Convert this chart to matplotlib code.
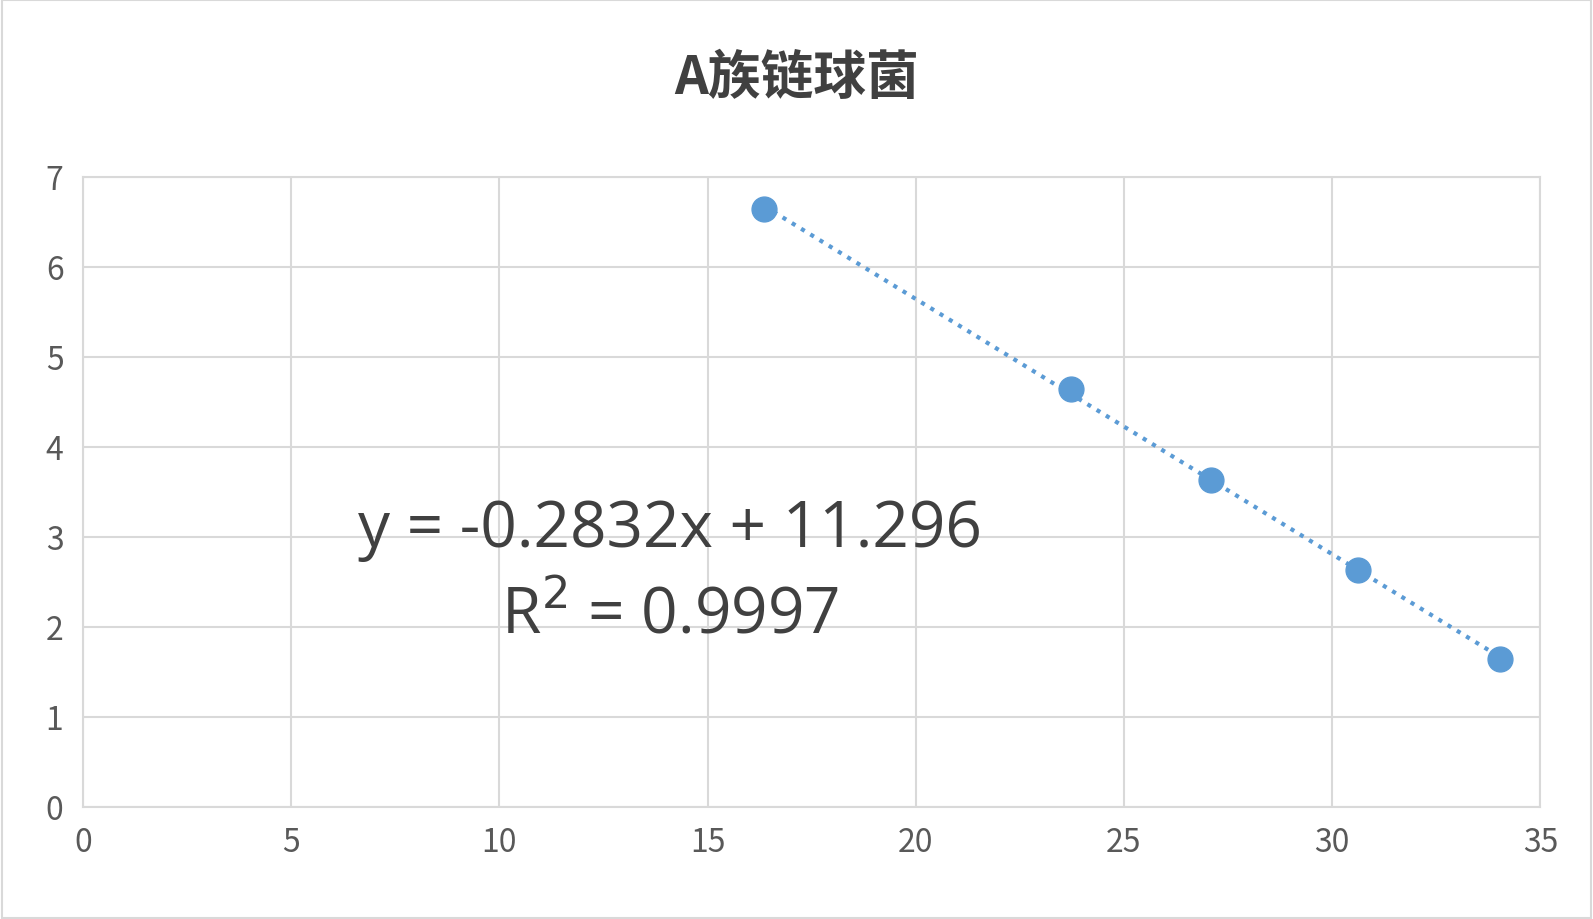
import matplotlib
matplotlib.use("Agg")
import matplotlib.pyplot as plt
import numpy as np

plt.rcParams['font.family'] = ['Noto Sans CJK SC', 'DejaVu Sans']

x_vals = [16.36, 23.72, 27.09, 30.63, 34.02]
y_vals = [6.64, 4.64, 3.63, 2.63, 1.64]
title = "A族链球菌"
eq_line1 = "y = -0.2832x + 11.296"
eq_line2 = "R$^2$ = 0.9997"

fig = plt.figure(figsize=(15.93, 9.2), dpi=100)
fig.patches.append(plt.Rectangle((0.001, 0.001), 0.998, 0.998, transform=fig.transFigure,
                                 fill=False, edgecolor="#d9d9d9", linewidth=1.5))
ax = fig.add_axes([0.052, 0.122, 0.915, 0.685])

col = "#5b9bd5"
ax.scatter(x_vals, y_vals, s=320, color=col, zorder=3)
k, b = np.polyfit(x_vals, y_vals, 1)
xs = np.array([min(x_vals), max(x_vals)])
ax.plot(xs, k * xs + b, linestyle=(0, (1, 1.6)), color=col, linewidth=3, zorder=2)

ax.set_xlim(0, 35)
ax.set_ylim(0, 7)
ax.set_xticks(range(0, 36, 5))
ax.set_yticks(range(0, 8))
ax.grid(True, color="#d9d9d9", linewidth=1.5)
for s in ax.spines.values():
    s.set_color("#d9d9d9")
    s.set_linewidth(1.5)
ax.tick_params(length=0, labelsize=23, labelcolor="#595959", pad=14)

ax.text(14.1, 3.08, eq_line1, fontsize=46, color="#404040", ha="center", va="center",
        family=['Open Sans', 'DejaVu Sans'])
ax.text(14.1, 2.12, eq_line2, fontsize=46, color="#404040", ha="center", va="center",
        family=['Open Sans', 'DejaVu Sans'])
fig.text(0.5, 0.915, title, fontsize=38, fontweight="bold", color="#404040",
         ha="center", va="center")

fig.savefig("out.png", dpi=100)
